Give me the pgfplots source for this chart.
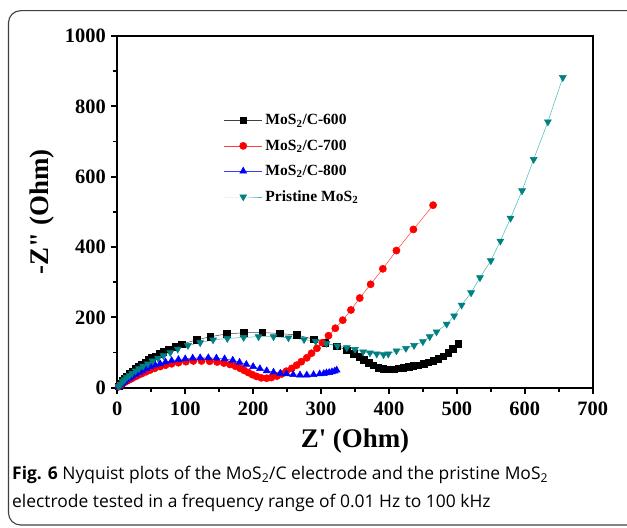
\documentclass[border=0pt]{standalone}
\usepackage{pgfplots}
\pgfplotsset{compat=1.18}
\usepackage{fontspec}
\setmainfont{Liberation Serif}
\newfontfamily\capfont{Open Sans}
\definecolor{tealm}{RGB}{0,128,128}
\definecolor{teall}{RGB}{70,185,185}
\definecolor{redl}{RGB}{255,60,60}
\definecolor{bluel}{RGB}{60,60,255}
\begin{document}
\begin{tikzpicture}
\useasboundingbox (0,0) rectangle (627bp,528bp);
\draw[line width=1.1bp, black!75, rounded corners=12bp] (700bp,517.3bp) -- (8.5bp,517.3bp) -- (8.5bp,3bp) -- (700bp,3bp);
\node[anchor=base west, inner sep=0pt, font=\capfont\fontsize{17.5}{20}\selectfont] at (12bp,48bp) {\textbf{Fig. 6} Nyquist plots of the MoS\textsubscript{2}/C electrode and the pristine MoS\textsubscript{2}};
\node[anchor=base west, inner sep=0pt, font=\capfont\fontsize{17.5}{20}\selectfont] at (12bp,21bp) {electrode tested in a frequency range of 0.01 Hz to 100 kHz};
\begin{axis}[
  at={(117.3bp,140.3bp)}, anchor=south west,
  scale only axis, width=475.4bp, height=351.7bp,
  xmin=0, xmax=700, ymin=0, ymax=1000,
  xtick={0,100,...,700}, ytick={0,200,...,1000},
  minor x tick num=1, minor y tick num=1,
  xtick pos=lower, ytick pos=left,
  tick align=outside,
  major tick length=6bp, minor tick length=4bp,
  every tick/.style={line width=1.8bp, black},
  axis line style={line width=2.2bp},
  /pgf/number format/assume math mode=true,
  /pgf/number format/1000 sep={},
  ticklabel style={font=\bfseries\fontsize{20.5}{20.5}\selectfont},
  xticklabel style={yshift=-5bp},
  yticklabel style={xshift=-2bp},
  xlabel={Z\textquotesingle{} (Ohm)}, ylabel={-Z\textquotedbl{} (Ohm)},
  label style={font=\bfseries\fontsize{27}{27}\selectfont},
  xlabel style={at={(axis description cs:0.5,-0.151)}, anchor=center},
  ylabel style={at={(axis description cs:-0.158,0.5)}, anchor=center},
  legend cell align=left,
  legend style={at={(0.224,0.777)}, anchor=north west, draw=none, fill=none,
    font=\bfseries\fontsize{15.6}{15.6}\selectfont, row sep=13.5bp, inner sep=0pt,
    nodes={inner xsep=3bp, inner ysep=0pt}},
  legend image code/.code={\draw[mark repeat=2,mark phase=2] plot coordinates {(0bp,0bp) (19bp,0bp) (38bp,0bp)};},
]
\addplot[black!75, line width=0.5bp, mark=square*, mark size=3.2bp, mark options={black, solid}] coordinates {
(2,4) (5,12) (8,20) (11,27) (14,33) (18,40) (22,46) (27,55) (31,60) (36,66) (41,72) (46,79) (51,85) (56,90) (62,96) (68,102) (76,109) (85,116) (95,124) (117,136) (137,145) (161,153) (186,156) (213,157) (239,154) (264,150) (289,138) (306,128) (323,118) (338,107) (348,96) (356,88) (363,80) (370,71) (377,63) (384,57) (392,54) (399,52) (407,53) (414,55) (421,57) (429,60) (436,62) (443,64) (451,68) (458,72) (465,77) (473,82) (480,90) (487,99) (494,111) (502,125)
};
\addlegendentry{MoS\textsubscript{2}/C-600}
\addplot[redl, line width=0.5bp, mark=*, mark size=3.6bp, mark options={red, solid}] coordinates {
(2,3) (5,7) (8,12) (11,16) (14,19) (18,23) (22,27) (27,32) (31,36) (36,40) (42,45) (48,50) (55,55) (63,60) (71,64) (80,68) (90,71) (101,74) (112,76) (124,76) (136,75) (147,73) (157,70) (166,66) (174,61) (181,55) (187,49) (193,43) (199,37) (205,32) (212,28) (220,27) (227,29) (235,33) (242,39) (249,47) (257,55) (264,64) (271,74) (279,85) (286,98) (294,112) (302,128) (311,148) (321,169) (332,192) (344,221) (357,255) (373,294) (391,338) (411,390) (436,450) (465,519)
};
\addlegendentry{MoS\textsubscript{2}/C-700}
\addplot[bluel, line width=0.5bp, mark=triangle*, mark size=4bp, mark options={blue, solid}] coordinates {
(2,3) (5,8) (8,13) (11,18) (14,22) (18,27) (22,32) (27,38) (32,43) (37,48) (43,54) (49,59) (56,64) (63,68) (71,73) (80,77) (90,80) (100,82) (111,84) (122,85) (134,85) (146,84) (158,82) (170,78) (180,72) (190,66) (200,60) (210,54) (220,48) (230,44) (240,41) (249,39) (259,37) (269,36) (279,36) (289,37) (298,39) (304,40) (308,42) (312,43) (316,45) (320,47) (323,50)
};
\addlegendentry{MoS\textsubscript{2}/C-800}
\addplot[teall, line width=0.5bp, mark=triangle*, mark size=4bp, mark options={tealm, solid, rotate=180}] coordinates {
(2,3) (5,10) (8,17) (11,23) (14,29) (18,35) (22,41) (27,48) (32,54) (38,61) (45,68) (52,76) (60,84) (68,91) (78,100) (89,110) (104,120) (122,128) (141,136) (162,140) (186,143) (208,145) (230,145) (252,142) (275,137) (292,132) (308,126) (324,119) (338,114) (350,109) (362,102) (372,99) (382,96) (392,94) (399,96) (411,105) (425,112) (437,120) (450,131) (460,145) (470,159) (485,181) (496,204) (507,235) (521,270) (534,313) (550,361) (564,417) (579,482) (596,560) (613,649) (634,756) (656,882)
};
\addlegendentry{Pristine MoS\textsubscript{2}}
\end{axis}
\end{tikzpicture}
\end{document}
